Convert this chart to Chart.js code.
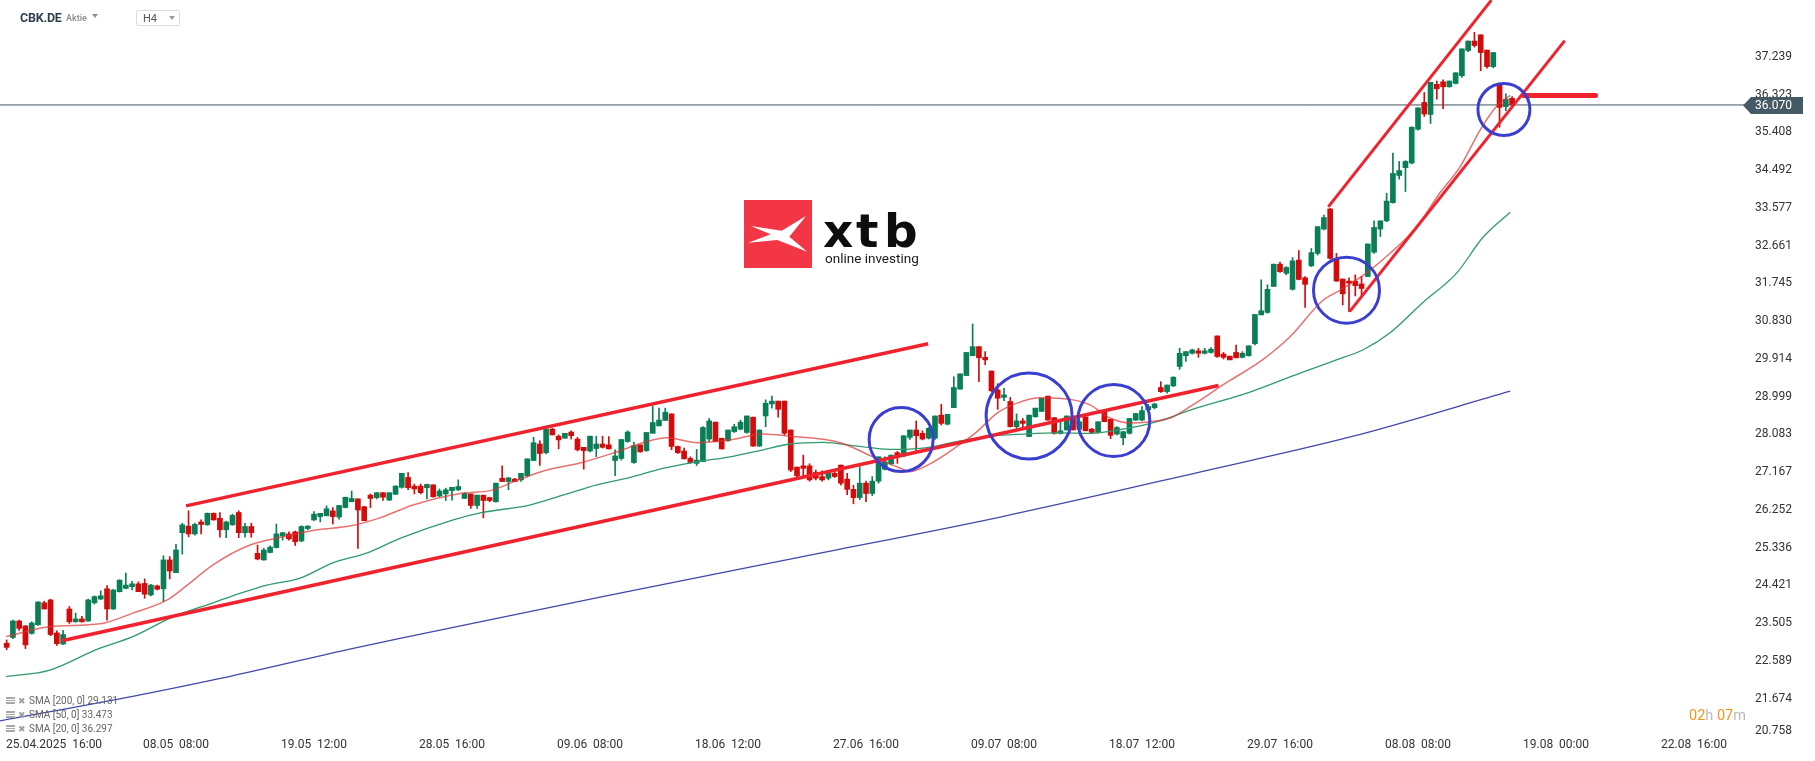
<!DOCTYPE html>
<html><head><meta charset="utf-8">
<script src="https://cdn.jsdelivr.net/npm/chart.js@4.4.1/dist/chart.umd.min.js"></script>
<style>
html,body{margin:0;padding:0;background:#fff;overflow:hidden;}
#wrap{position:relative;width:1815px;height:761px;font-family:Roboto,"Noto Sans",sans-serif;}
canvas{display:block;position:absolute;left:0;top:0;}
.abs{position:absolute;white-space:nowrap;}
#sym{left:20px;top:10px;font-weight:700;font-size:12.5px;letter-spacing:-0.2px;color:#2f3f4b;line-height:16px;}
#akt{left:66px;top:12px;font-weight:500;font-size:9px;color:#8a8a8a;line-height:12px;}
.tri{width:0;height:0;border-left:3.5px solid transparent;border-right:3.5px solid transparent;border-top:4px solid #8f8f8f;}
#tri1{left:92px;top:14px;}
#tf{left:136px;top:10px;width:42px;height:14px;border:1px solid #dcdcdc;border-radius:2px;}
#tf span{position:absolute;left:6px;top:1px;font-size:11px;color:#555;line-height:13px;}
#tri2{left:32px;top:5px;border-top-color:#9a9a9a;}
.lg{left:6px;font-size:10px;color:#666;line-height:12px;}
.ic1{display:inline-block;width:9px;height:7px;vertical-align:-0px;background:linear-gradient(#a8a8a8 0 2px,#fff 2px 3px,#a8a8a8 3px 4px,#fff 4px 5px,#a8a8a8 5px 7px);margin-right:3px;}
.ic2{display:inline-block;color:#a0a0a0;font-size:9px;margin-right:3px;}
#cd{right:69px;top:708px;font-size:14.5px;line-height:16px;}
#cd .o{color:#f7941d;} #cd .g{color:#bbbbbb;}
</style></head><body>
<div id="wrap">
<canvas id="c" width="1815" height="761" style="width:1815px;height:761px"></canvas>
<div class="abs" id="sym">CBK.DE</div>
<div class="abs" id="akt">Aktie</div>
<div class="abs tri" id="tri1"></div>
<div class="abs" id="tf"><span>H4</span><div class="abs tri" id="tri2"></div></div>
<div class="abs lg" style="top:695px"><span class="ic1"></span><span class="ic2">✖</span>SMA [200, 0] 29.131</div>
<div class="abs lg" style="top:709px"><span class="ic1"></span><span class="ic2">✖</span>SMA [50, 0] 33.473</div>
<div class="abs lg" style="top:723px"><span class="ic1"></span><span class="ic2">✖</span>SMA [20, 0] 36.297</div>
<div class="abs" id="cd"><span class="o">02</span><span class="g">h</span> <span class="o">07</span><span class="g">m</span></div>
</div>
<script>
// ---------------- DATA ----------------
const firstIndex = -5; // candle index of first bar (index 0 = 25.04.2025 16:00, H4 bars)
const opens = [
23.02,23.16,23.56,23.44,23.26,23.47,24.00,24.07,23.27,23.00,
23.85,23.54,23.61,23.56,24.00,24.09,24.34,23.85,24.27,24.35,
24.39,24.46,24.47,24.19,24.41,24.34,25.04,24.73,25.70,25.86,
25.67,25.96,25.89,26.17,26.05,25.77,25.89,26.19,25.70,25.85,
25.20,25.04,25.22,25.34,25.62,25.67,25.72,25.50,25.80,26.01,
26.09,26.11,26.23,26.08,26.31,26.45,26.52,26.33,26.61,26.55,
26.67,26.49,26.63,26.80,27.04,26.83,26.83,26.79,26.86,26.59,
26.64,26.72,26.74,26.53,26.64,26.36,26.61,26.55,26.45,27.02,
26.94,27.00,26.98,27.08,27.45,27.85,27.64,28.21,28.04,27.99,
28.14,27.97,27.77,27.68,27.74,27.85,27.83,27.45,27.50,27.91,
27.40,27.83,27.69,28.11,28.29,28.42,28.58,27.79,27.68,27.50,
27.38,27.42,27.97,28.38,27.99,27.93,28.15,28.21,28.13,28.50,
27.80,28.53,28.82,28.89,28.89,28.19,27.29,27.32,27.32,27.16,
27.06,27.02,27.14,27.34,27.00,26.75,26.55,26.90,26.65,26.95,
27.24,27.37,27.64,27.56,28.01,28.19,28.11,27.99,27.99,28.55,
28.33,28.73,29.18,29.51,29.99,30.21,29.95,29.62,29.16,28.98,
28.88,28.27,28.41,28.03,28.51,28.64,29.01,28.49,28.11,28.19,
28.51,28.21,28.51,28.21,28.13,28.64,28.45,28.09,28.00,28.11,
28.43,28.43,28.68,28.73,29.22,29.12,29.26,29.73,29.99,30.05,
30.11,30.05,30.07,30.47,30.03,29.98,30.07,29.95,29.99,30.28,
30.98,31.04,31.67,32.21,31.99,31.60,32.31,31.88,32.17,32.47,
33.06,33.55,32.35,31.85,31.80,31.80,31.73,31.91,32.50,33.06,
33.26,33.70,34.36,34.55,34.66,35.48,36.13,35.84,36.57,36.63,
36.51,36.59,36.78,37.39,37.62,37.77,37.40,37.00,36.55,36.03,
36.23];
const highs = [
23.10,23.58,23.58,23.45,23.54,24.03,24.04,24.09,23.32,23.33,
23.91,23.75,23.67,24.09,24.17,24.29,24.42,24.33,24.56,24.72,
24.52,24.51,24.58,24.45,24.43,25.14,25.12,25.42,25.93,26.23,
25.93,26.01,26.18,26.18,26.19,25.98,26.15,26.23,25.93,25.93,
25.40,25.32,25.38,25.91,25.71,25.72,25.74,25.87,25.87,26.21,
26.17,26.35,26.31,26.36,26.56,26.71,26.52,26.34,26.64,26.67,
26.67,26.67,26.84,27.14,27.16,26.88,26.88,26.88,26.86,26.76,
26.78,26.80,26.98,26.67,26.64,26.61,26.61,26.56,26.90,27.32,
27.04,27.02,27.14,27.49,28.01,27.93,28.21,28.23,28.07,28.11,
28.17,28.01,27.77,28.04,28.04,28.04,28.03,27.71,27.96,28.17,
27.89,27.83,28.13,28.77,28.72,28.72,28.58,27.80,27.75,27.54,
27.72,28.27,28.47,28.38,27.99,28.19,28.33,28.43,28.53,28.50,
28.19,28.92,29.01,28.89,28.89,28.19,27.29,27.58,27.37,27.22,
27.20,27.16,27.16,27.34,27.14,26.85,27.30,26.95,27.06,27.54,
27.54,27.58,27.67,28.05,28.19,28.41,28.17,28.25,28.53,28.81,
28.57,29.48,29.55,30.07,30.76,30.21,30.09,29.62,29.31,29.20,
28.98,28.58,28.47,28.55,28.72,28.96,29.01,28.49,28.41,28.53,
28.51,28.53,28.51,28.23,28.39,28.68,28.45,28.27,28.15,28.47,
28.59,28.76,28.81,28.84,29.36,29.28,29.48,30.17,30.09,30.15,
30.17,30.17,30.19,30.47,30.07,29.98,30.25,30.09,30.23,30.99,
31.83,31.71,32.21,32.26,32.15,32.37,32.54,31.91,32.59,33.12,
33.40,33.56,32.47,31.85,31.88,31.95,31.91,32.70,33.26,33.26,
33.93,34.90,34.70,34.72,35.54,36.00,36.37,36.62,36.65,36.68,
36.65,36.85,37.43,37.62,37.83,37.77,37.40,37.34,36.55,36.34,
36.27];
const lows = [
22.86,23.13,23.33,22.89,23.24,23.45,23.85,23.20,22.97,22.99,
23.50,23.53,23.53,23.55,23.97,24.08,23.58,23.84,24.26,24.34,
24.31,24.27,24.11,24.17,24.31,24.03,24.58,24.73,25.18,25.60,
25.64,25.67,25.88,26.00,25.59,25.58,25.88,25.58,25.59,25.59,
25.04,25.03,25.21,25.33,25.52,25.52,25.39,25.48,25.77,25.99,
25.96,26.11,25.91,26.03,26.30,26.45,25.32,25.99,26.31,26.52,
26.48,26.48,26.63,26.78,26.74,26.64,26.64,26.52,26.56,26.57,
26.48,26.49,26.72,26.53,26.29,26.29,26.06,26.45,26.44,26.94,
26.74,26.94,26.94,27.06,27.45,27.33,27.61,28.07,27.73,27.99,
27.97,27.68,27.24,27.66,27.54,27.75,27.73,27.08,27.46,27.89,
27.38,27.65,27.67,28.11,28.29,28.42,27.71,27.62,27.49,27.38,
27.33,27.42,27.91,27.91,27.73,27.91,28.13,28.19,28.11,27.79,
27.79,28.27,28.72,28.50,28.07,27.18,27.02,27.06,26.95,26.98,
26.95,26.98,27.04,26.85,26.62,26.40,26.50,26.45,26.60,26.90,
27.22,27.34,27.38,27.54,27.96,27.67,27.95,27.97,27.96,28.31,
28.31,28.73,29.18,29.51,29.99,29.36,29.77,29.12,28.69,28.90,
28.26,28.23,28.23,28.03,28.50,28.64,28.43,28.09,28.09,28.19,
28.19,28.21,28.17,28.11,28.11,28.39,27.98,28.07,27.83,28.09,
28.42,28.41,28.64,28.70,29.10,29.08,29.24,29.66,29.85,30.03,
29.95,30.03,30.05,29.95,29.91,29.89,29.94,29.94,29.98,30.25,
30.98,31.02,31.67,32.01,31.95,31.58,31.83,31.16,32.15,32.43,
33.04,32.33,31.79,31.22,31.06,31.44,31.44,31.91,32.47,32.88,
33.24,33.69,34.27,33.97,34.64,35.46,35.79,35.62,36.21,35.98,
36.50,36.58,36.74,37.36,37.47,36.90,36.96,36.97,35.53,35.93,
36.07];
const closes = [
22.92,23.56,23.38,22.98,23.51,24.02,23.85,23.23,23.01,23.23,
23.54,23.61,23.54,24.07,24.15,24.17,23.85,24.31,24.55,24.43,
24.46,24.27,24.21,24.43,24.33,25.04,24.77,25.28,25.89,25.67,
25.90,25.90,26.17,26.01,25.77,25.96,26.12,25.70,25.85,25.70,
25.06,25.28,25.35,25.67,25.70,25.55,25.48,25.85,25.86,26.15,
26.17,26.28,26.09,26.36,26.56,26.53,26.25,25.99,26.53,26.67,
26.56,26.67,26.83,27.14,26.79,26.76,26.67,26.87,26.57,26.71,
26.74,26.80,26.82,26.65,26.36,26.61,26.48,26.48,26.90,26.94,
27.03,26.94,27.14,27.49,27.88,27.62,28.21,28.07,27.95,28.11,
28.05,27.71,27.69,28.04,27.85,27.77,27.73,27.56,27.96,28.14,
27.81,27.66,28.13,28.37,28.43,28.62,27.79,27.64,27.49,27.40,
27.46,28.25,28.41,27.91,27.73,28.19,28.27,28.38,28.53,27.80,
28.19,28.84,28.89,28.69,28.11,27.22,27.08,27.26,26.98,27.02,
26.98,27.14,27.06,26.90,26.75,26.55,26.90,26.65,26.95,27.54,
27.42,27.58,27.54,28.05,28.19,28.05,27.97,28.23,28.53,28.35,
28.57,29.22,29.55,30.07,30.21,29.94,29.89,29.14,28.96,29.04,
28.27,28.41,28.35,28.55,28.72,28.96,28.43,28.11,28.17,28.53,
28.19,28.39,28.17,28.13,28.39,28.39,28.06,28.25,28.15,28.47,
28.59,28.66,28.76,28.82,29.12,29.28,29.47,30.05,30.09,30.13,
30.05,30.11,30.15,29.97,29.95,29.89,29.94,30.05,30.23,30.99,
31.08,31.60,32.21,32.03,32.13,32.29,31.84,31.72,32.49,33.12,
33.34,32.35,31.80,31.49,31.75,31.69,31.62,32.70,33.10,33.26,
33.74,34.41,34.48,34.70,35.53,36.00,35.85,36.62,36.46,36.51,
36.65,36.85,37.43,37.62,37.51,37.34,37.00,37.34,36.01,36.21,
36.07];

// moving averages (x = candle index, y = price)
const sma20Idx = [-5.1,1.8,9.9,15.1,20.6,23.8,27.9,33.8,39.1,44.5,49.7,54.5,57.7,59.8,67.8,72.1,76.9,81.1,86.4,91.7,97.1,100.3,105.1,110.3,115.6,119.9,127.9,133.1,137.4,139.0,142.2,146.5,149.7,152.9,156.1,159.7,165.0,167.7,170.9,174.1,177.3,180.5,183.7,189.4,195.2,199.6,204.9,207.6,211.8,215.6,219.8,223.5,226.7,229.9,232.5,234.7];
const sma20Val = [23.18,23.42,23.49,23.75,24.07,24.43,24.92,25.40,25.60,25.77,25.86,26.06,26.25,26.37,26.66,26.72,27.00,27.22,27.39,27.63,27.91,28.00,27.88,27.95,28.09,28.04,27.88,27.54,27.27,27.18,27.37,27.79,28.15,28.60,28.84,28.97,28.92,28.80,28.48,28.36,28.39,28.48,28.76,29.33,29.89,30.45,31.34,31.58,32.00,32.48,33.12,33.94,34.57,35.46,36.03,36.30];
const sma50Idx = [-5.1,1.9,9.4,15.1,21.5,27.9,32.2,36.5,41.8,47.0,52.5,57.7,66.2,70.5,78.4,83.7,89.1,94.4,99.6,105.1,110.3,115.6,119.9,125.1,130.6,135.8,141.1,146.5,151.8,157.0,162.5,167.7,173.0,178.4,183.7,193.2,201.2,207.0,211.2,215.5,220.7,226.2,230.3,234.7];
const sma50Val = [22.21,22.37,22.87,23.18,23.66,24.00,24.23,24.43,24.60,24.97,25.21,25.56,26.01,26.18,26.37,26.61,26.86,27.04,27.26,27.42,27.54,27.71,27.85,27.89,27.80,27.72,27.75,27.91,28.04,28.09,28.12,28.11,28.21,28.39,28.67,29.11,29.57,29.89,30.13,30.54,31.27,32.00,32.85,33.47];
const sma200Idx = [-6.06,15.3,28.5,49.7,57.7,89.6,121.5,153.4,185.2,209.2,234.7];
const sma200Val = [21.14,21.74,22.15,22.88,23.14,24.14,25.11,26.08,27.17,28.02,29.13];

// drawn trend lines (two end points each: candle index, price)
const channelTopIdx = [23.6, 141.9],  channelTopVal = [26.35, 30.28];
const channelLowIdx = [3.8, 188.2],   channelLowVal = [23.08, 29.27];
const steepTopIdx = [205.7, 231.7],   steepTopVal = [33.60, 38.61];
const steepLowIdx = [209.1, 243.4],   steepLowVal = [31.06, 37.63];
const levelIdx = [236.8, 248.3],      levelVal = [36.30, 36.30];

// highlighted areas
const circleIdx = [137.6, 158.0, 171.5, 208.6, 233.7];
const circleVal = [27.96, 28.53, 28.42, 31.58, 35.96];

const lastPrice = 36.070;

// axis labels
const xTickIdx = [0,22,44,66,88,110,132,154,176,198,220,242,264];
const xTickLabels = ["25.04.2025  16:00","08.05  08:00","19.05  12:00","28.05  16:00","09.06  08:00","18.06  12:00","27.06  16:00","09.07  08:00","18.07  12:00","29.07  16:00","08.08  08:00","19.08  00:00","22.08  16:00"];
const yTickLabels = ["20.758","21.674","22.589","23.505","24.421","25.336","26.252","27.167","28.083","28.999","29.914","30.830","31.745","32.661","33.577","34.492","35.408","36.323","37.239"];

// view range
const xMin = -6.06, xMax = 272.45;
const yMin = 20.747, yMax = 38.614;

// ---------------- STYLE ----------------
const UP = '#0a7f57', DOWN = '#d20b0b';
const LINE_RED = '#f0222d', CIRCLE_BLUE = '#3b3fcf';
const circleRadius = [32, 43, 36, 33, 26];

const pts = (xs, ys) => xs.map((x, i) => ({x, y: ys[i]}));
const candleColor = opens.map((o, i) => closes[i] >= o ? UP : DOWN);
const wickData = opens.map((o, i) => ({x: firstIndex + i, y: [lows[i], highs[i]]}));
const bodyData = opens.map((o, i) => ({x: firstIndex + i, y: [Math.min(o, closes[i]), Math.max(o, closes[i])]}));

const lineDs = (data, color, width, order, extra) => Object.assign({
  type: 'line', data, borderColor: color, borderWidth: width, pointRadius: 0,
  fill: false, tension: 0, order
}, extra || {});

const logoPlugin = {
  id: 'logo',
  beforeDatasetsDraw(chart) {
    const ctx = chart.ctx;
    ctx.save();
    ctx.fillStyle = '#f23645';
    ctx.fillRect(744, 200, 68, 68);
    ctx.fillStyle = '#ffffff';
    ctx.beginPath();
    ctx.moveTo(750.7, 226); ctx.lineTo(781.7, 230.7); ctx.lineTo(806, 216);
    ctx.lineTo(789.3, 236.7); ctx.lineTo(807.3, 251.7); ctx.lineTo(777.3, 240);
    ctx.lineTo(748.3, 242.7); ctx.lineTo(770.7, 234.3); ctx.closePath();
    ctx.fill();
    ctx.fillStyle = '#0d0d0d';
    ctx.font = 'bold 47px "DejaVu Sans"';
    ctx.textBaseline = 'alphabetic';
    ctx.fillText('x', 823, 247);
    ctx.fillText('t', 856, 247);
    ctx.fillText('b', 884, 247);
    ctx.fillStyle = '#1a1a1a';
    ctx.font = '13.5px Roboto';
    ctx.fillText('online investing', 825, 263, 98);
    ctx.restore();
  }
};

const axisPlugin = {
  id: 'axisLabels',
  afterDraw(chart) {
    const {ctx, chartArea, scales: {x, y}} = chart;
    ctx.save();
    ctx.font = '12px Roboto';
    ctx.fillStyle = '#333333';
    ctx.textBaseline = 'middle';
    ctx.textAlign = 'left';
    yTickLabels.forEach(t => {
      let py = y.getPixelForValue(parseFloat(t));
      py = Math.min(py, chartArea.bottom - 6);
      ctx.fillText(t, chartArea.right + 8, py);
    });
    // current price tag
    const py = Math.round(y.getPixelForValue(lastPrice)) + 0.5;
    const tip = chartArea.right - 4;
    ctx.fillStyle = '#455a64';
    ctx.beginPath();
    ctx.moveTo(tip, py);
    ctx.lineTo(tip + 8, py - 8.5);
    ctx.lineTo(tip + 60, py - 8.5);
    ctx.lineTo(tip + 60, py + 8.5);
    ctx.lineTo(tip + 8, py + 8.5);
    ctx.closePath();
    ctx.fill();
    ctx.fillStyle = '#ffffff';
    ctx.fillText(lastPrice.toFixed(3), chartArea.right + 8, py + 0.5);
    // time labels
    ctx.fillStyle = '#333333';
    xTickIdx.forEach((v, i) => {
      const t = xTickLabels[i];
      const w = ctx.measureText(t).width;
      let px = x.getPixelForValue(v) - w / 2;
      px = Math.max(px, 6);
      ctx.fillText(t, px, chartArea.bottom + 7.5);
    });
    ctx.restore();
  }
};

new Chart(document.getElementById('c'), {
  type: 'bar',
  data: {
    datasets: [
      lineDs(pts(circleIdx, circleVal), CIRCLE_BLUE, 0, 0, {
        showLine: false, pointRadius: circleRadius, pointBorderWidth: 3,
        pointBorderColor: CIRCLE_BLUE, pointBackgroundColor: 'rgba(0,0,0,0)', clip: false
      }),
      lineDs(pts(levelIdx, levelVal), LINE_RED, 5, 1, {borderCapStyle: 'round'}),
      lineDs(pts(steepTopIdx, steepTopVal), LINE_RED, 3, 1),
      lineDs(pts(steepLowIdx, steepLowVal), LINE_RED, 3, 1),
      lineDs(pts(channelTopIdx, channelTopVal), LINE_RED, 3.5, 1),
      lineDs(pts(channelLowIdx, channelLowVal), LINE_RED, 3.5, 1),
      lineDs(pts(sma20Idx, sma20Val), 'rgba(222,52,52,0.7)', 1.5, 3, {cubicInterpolationMode: 'monotone'}),
      lineDs(pts(sma50Idx, sma50Val), '#2f9a6c', 1.3, 3, {cubicInterpolationMode: 'monotone'}),
      lineDs(pts(sma200Idx, sma200Val), '#4148aa', 1.3, 3, {cubicInterpolationMode: 'monotone'}),
      {
        type: 'bar', data: bodyData, backgroundColor: candleColor, barThickness: 5,
        grouped: false, minBarLength: 1, borderWidth: 0, order: 4
      },
      {
        type: 'bar', data: wickData, backgroundColor: candleColor, barThickness: 1,
        grouped: false, borderWidth: 0, order: 5
      },
      lineDs([{x: xMin, y: lastPrice}, {x: xMax, y: lastPrice}], '#40525e', 1, 6)
    ]
  },
  options: {
    responsive: false,
    animation: false,
    devicePixelRatio: 1,
    events: [],
    layout: {padding: 0, autoPadding: false},
    plugins: {legend: {display: false}, tooltip: {enabled: false}},
    scales: {
      x: {
        type: 'linear', min: xMin, max: xMax, offset: false, bounds: 'data',
        grid: {display: false}, border: {display: false}, ticks: {display: false},
        afterFit: s => { s.height = 24; }
      },
      y: {
        type: 'linear', position: 'right', min: yMin, max: yMax, bounds: 'data',
        grid: {display: false}, border: {display: false}, ticks: {display: false},
        afterFit: s => { s.width = 68; }
      }
    }
  },
  plugins: [logoPlugin, axisPlugin]
});
</script>
</body></html>
